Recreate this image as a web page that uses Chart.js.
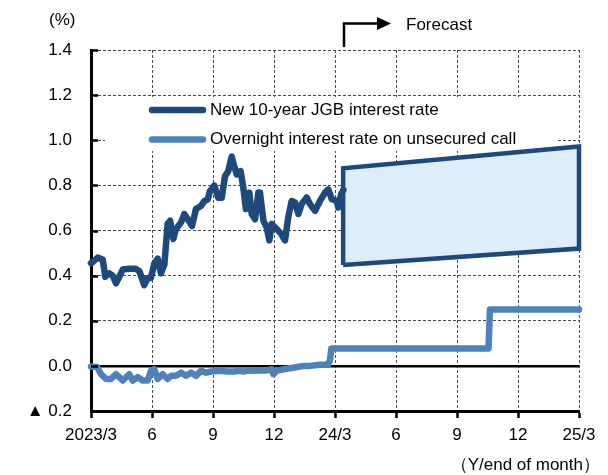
<!DOCTYPE html>
<html>
<head>
<meta charset="utf-8">
<script src="https://cdn.jsdelivr.net/npm/chart.js@4/dist/chart.umd.min.js"></script>
<style>
  html, body { margin: 0; padding: 0; background: #ffffff; }
  #wrap { width: 608px; height: 475px; position: relative; }
</style>
</head>
<body>
<div id="wrap"><canvas id="c" width="608" height="475"></canvas></div>
<script>
// Months counted from end of March 2023 (0) to end of March 2025 (24)
const tickLabels = ['2023/3', '6', '9', '12', '24/3', '6', '9', '12', '25/3'];

// New 10-year JGB yield (%)
const jgbMonths = [0, 0.08, 0.33, 0.58, 0.70, 0.90, 1.07, 1.23, 1.39, 1.56, 1.88, 2.21, 2.38, 2.62, 2.79, 2.95,
  3.11, 3.28, 3.44, 3.61, 3.77, 3.89, 4.05, 4.18, 4.43, 4.59, 4.76, 4.97, 5.16, 5.41, 5.57, 5.74, 5.85, 5.99,
  6.06, 6.26, 6.43, 6.59, 6.75, 6.92, 7.03, 7.17, 7.36, 7.49, 7.62, 7.79, 7.90, 8.07, 8.23, 8.31, 8.48, 8.64,
  8.77, 8.89, 9.13, 9.35, 9.54, 9.70, 9.87, 10.03, 10.20, 10.36, 10.61, 10.77, 11.02, 11.26, 11.51, 11.67,
  11.84, 12.09, 12.16, 12.30, 12.41];
const jgbRates = [0.455, 0.46, 0.48, 0.47, 0.395, 0.41, 0.40, 0.366, 0.395, 0.427, 0.43, 0.43, 0.42, 0.358, 0.39, 0.39,
  0.453, 0.475, 0.41, 0.45, 0.63, 0.643, 0.563, 0.607, 0.636, 0.673, 0.65, 0.62, 0.695, 0.709, 0.73, 0.738, 0.775, 0.79,
  0.80, 0.745, 0.745, 0.84, 0.863, 0.928, 0.89, 0.848, 0.863, 0.79, 0.695, 0.768, 0.673, 0.65, 0.768, 0.768, 0.643, 0.614,
  0.556, 0.629, 0.607, 0.585, 0.556, 0.658, 0.731, 0.724, 0.673, 0.717, 0.746, 0.717, 0.687, 0.731, 0.768, 0.782,
  0.739, 0.731, 0.702, 0.76, 0.78];

// Overnight call rate (%), actual and assumed path
const callMonths = [0, 0.3, 0.49, 0.74, 0.98, 1.23, 1.39, 1.56, 1.88, 2.05, 2.30, 2.54, 2.79, 2.95, 3.11, 3.28, 3.53,
  3.77, 3.94, 4.18, 4.43, 4.67, 4.92, 5.16, 5.41, 5.66, 5.90, 6.35, 6.67, 7.0, 7.33, 7.49, 7.66, 7.98, 8.31, 8.64,
  8.89, 8.97, 9.13, 9.46, 9.95, 10.44, 10.77, 11.26, 11.67, 11.76, 11.82, 19.55, 19.62, 24];
const callRates = [-0.003, -0.005, -0.037, -0.058, -0.058, -0.037, -0.05, -0.065, -0.037, -0.065, -0.05, -0.065, -0.065,
  -0.022, -0.015, -0.058, -0.037, -0.058, -0.044, -0.044, -0.03, -0.044, -0.03, -0.044, -0.022, -0.03, -0.025, -0.022,
  -0.025, -0.025, -0.022, -0.025, -0.022, -0.022, -0.02, -0.02, -0.015, -0.037, -0.022, -0.015, -0.008, 0.0, 0.0,
  0.005, 0.005, 0.03, 0.077, 0.077, 0.25, 0.25];

// Forecast range for the 10-year yield
const bandMonths = [12.4, 24];
const bandLow = [0.447, 0.52];
const bandHigh = [0.876, 0.972];

const DARK = '#1f497d';
const LIGHT = '#4f81bd';
const FONT = '"Liberation Sans", Arial, sans-serif';
const FSIZE = 17;

Chart.defaults.font.family = FONT;
Chart.defaults.font.size = FSIZE;
Chart.defaults.color = '#000000';

const pts = (xs, ys) => xs.map((x, i) => ({ x: x, y: ys[i] }));
const bandPolygon = [
  { x: bandMonths[0], y: bandLow[0] },
  { x: bandMonths[0], y: bandHigh[0] },
  { x: bandMonths[1], y: bandHigh[1] },
  { x: bandMonths[1], y: bandLow[1] },
  { x: bandMonths[0], y: bandLow[0] }
];

const series = [
  { label: 'New 10-year JGB interest rate', color: DARK },
  { label: 'Overnight interest rate on unsecured call', color: LIGHT }
];

// Legend box, axis ticks inside the y axis, and free annotations
const decorations = {
  id: 'decorations',
  beforeDatasetsDraw(chart) {
    const ctx = chart.ctx;
    ctx.save();
    ctx.fillStyle = '#ffffff';
    ctx.fillRect(105, 97, 453, 54);
    series.forEach((s, i) => {
      const y = 110 + i * 29.5;
      ctx.strokeStyle = s.color;
      ctx.lineWidth = 6.5;
      ctx.lineCap = 'round';
      ctx.beginPath();
      ctx.moveTo(152, y);
      ctx.lineTo(203, y);
      ctx.stroke();
      ctx.fillStyle = '#000000';
      ctx.font = FSIZE + 'px ' + FONT;
      ctx.textAlign = 'left';
      ctx.textBaseline = 'middle';
      ctx.fillText(s.label, 210, y);
    });
    ctx.restore();
  },
  afterDraw(chart) {
    const ctx = chart.ctx;
    const ys = chart.scales.y;
    const left = chart.chartArea.left;
    ctx.save();
    // inward tick marks on the value axis
    ctx.strokeStyle = '#000000';
    ctx.lineWidth = 2.5;
    ys.ticks.forEach(t => {
      const py = Math.round(ys.getPixelForValue(t.value)) + 0.5;
      ctx.beginPath();
      ctx.moveTo(left, py);
      ctx.lineTo(left + 7, py);
      ctx.stroke();
    });
    // forecast marker
    ctx.lineWidth = 2.5;
    ctx.lineCap = 'butt';
    ctx.beginPath();
    ctx.moveTo(344, 47);
    ctx.lineTo(344, 23.5);
    ctx.lineTo(379, 23.5);
    ctx.stroke();
    ctx.fillStyle = '#000000';
    ctx.beginPath();
    ctx.moveTo(377, 17);
    ctx.lineTo(391, 23.5);
    ctx.lineTo(377, 30);
    ctx.closePath();
    ctx.fill();
    ctx.font = FSIZE + 'px ' + FONT;
    ctx.textBaseline = 'middle';
    ctx.textAlign = 'left';
    ctx.fillText('Forecast', 406, 25);
    ctx.fillText('(%)', 49, 20);
    ctx.textAlign = 'right';
    ctx.fillText('（Y/end of month）', 600, 465);
    ctx.restore();
  }
};

new Chart(document.getElementById('c'), {
  type: 'line',
  data: {
    datasets: [
      {
        label: 'Forecast range',
        data: bandPolygon,
        borderColor: DARK,
        backgroundColor: '#dcedfb',
        borderWidth: 4.5,
        borderJoinStyle: 'miter',
        fill: 'shape',
        pointRadius: 0,
        tension: 0,
        clip: false,
        order: 3
      },
      {
        label: series[1].label,
        data: pts(callMonths, callRates),
        borderColor: LIGHT,
        borderWidth: 6.5,
        borderCapStyle: 'round',
        borderJoinStyle: 'round',
        pointRadius: 0,
        tension: 0,
        fill: false,
        clip: false,
        order: 2
      },
      {
        label: series[0].label,
        data: pts(jgbMonths, jgbRates),
        borderColor: DARK,
        borderWidth: 6.5,
        borderCapStyle: 'round',
        borderJoinStyle: 'round',
        pointRadius: 0,
        tension: 0,
        fill: false,
        clip: false,
        order: 1
      }
    ]
  },
  options: {
    responsive: false,
    animation: false,
    devicePixelRatio: 1,
    layout: { padding: { top: 50, right: 29, left: 0, bottom: 0 } },
    plugins: {
      legend: { display: false },
      tooltip: { enabled: false }
    },
    scales: {
      x: {
        type: 'linear',
        min: 0,
        max: 24,
        afterFit(s) { s.height = 64; },
        afterBuildTicks(s) {
          s.ticks = tickLabels.map((_, i) => ({ value: i * 3 }));
        },
        ticks: {
          autoSkip: false,
          maxRotation: 0,
          padding: 7,
          callback: (v) => tickLabels[Math.round(v / 3)]
        },
        grid: {
          color: '#4a4a4a',
          lineWidth: 1,
          tickLength: 7,
          tickColor: '#000000',
          tickWidth: 2.5,
          tickBorderDash: []
        },
        border: { color: '#000000', width: 3, dash: [3, 2] }
      },
      y: {
        min: -0.2,
        max: 1.4,
        afterFit(s) { s.width = 91; },
        ticks: {
          stepSize: 0.2,
          padding: 19,
          callback: (v) => v < -0.001 ? '▲ ' + Math.abs(v).toFixed(1) : (Math.abs(v) < 0.001 ? '0.0' : v.toFixed(1))
        },
        grid: {
          drawTicks: false,
          color: (c) => (c.tick && Math.abs(c.tick.value) < 1e-6) ? '#000000' : '#4a4a4a',
          lineWidth: (c) => (c.tick && Math.abs(c.tick.value) < 1e-6) ? 2.5 : 1
        },
        border: {
          color: '#000000',
          width: 3,
          dash: (c) => (c.tick && Math.abs(c.tick.value) < 1e-6) ? [] : [3, 2]
        }
      }
    }
  },
  plugins: [decorations]
});
</script>
</body>
</html>
